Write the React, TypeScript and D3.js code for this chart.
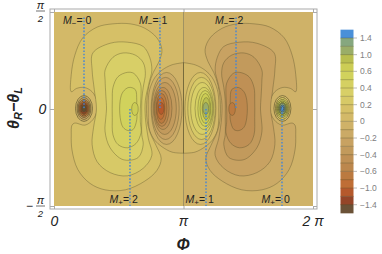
import React, { useEffect, useRef } from 'react';
import * as d3 from 'd3';

type Pt = [number, number];

// contour levels and the colour of the band above each one (lowest band first)
const levels = [-1.4, -1.2, -1, -0.8, -0.6, -0.5, -0.4, -0.3, -0.2, -0.1, 0, 0.1, 0.2, 0.3, 0.4, 0.5, 0.6, 0.8, 1, 1.2, 1.4];
const bandColors = ['#6b5237', '#944528', '#b5592c', '#bf6e36', '#bb7a40', '#bc874d', '#bf9055', '#c29a5c', '#c8a262', '#cbaa66', '#cfb268',
  '#d3b968', '#d6c067', '#d7c967', '#d8cf67', '#d5d062', '#d1d25c', '#cccd55', '#b9be4f', '#9aad68', '#86a77f', '#4a90d9'];
const legendTicks = [1.4, 1, 0.6, 0.4, 0.2, 0, -0.2, -0.4, -0.6, -1, -1.4];

// traced contours, [phi deg, theta deg], left half of the plot
const zeroLeft: Pt[] = [[180, 43], [164, 41], [150, 36], [140, 29], [133, 18], [131, 8], [131, 0], [131, -8], [133, -20], [140, -29], [150, -35], [164, -40], [180, -41]];
const lobeL01: Pt[] = [[24, 32], [29, 50], [40, 66], [60, 76], [82, 79], [106, 79], [126, 75], [143, 66], [150, 55], [146, 44], [138, 34], [132, 22], [129, 8], [129, -8], [133, -21], [142, -34], [149, -46], [143, -57], [126, -67], [99, -75], [71, -75], [50, -69], [33, -56], [25, -38], [24, -24], [25, -15], [29, -13], [43, -15], [54, -10], [60, -1], [60, 7], [53, 16], [42, 20], [31, 19], [24, 16]];
const lobeL02: Pt[] = [[53, 36], [54, 52], [78, 61], [102, 62], [124, 58], [133, 48], [136, 36], [132, 24], [127, 8], [127, -8], [131, -27], [136, -43], [124, -55], [102, -62], [78, -59], [60, -49], [53, -33], [55, -17], [59, 0], [56, 18]];
const lobeL03: Pt[] = [[71, 27], [71, 36], [82, 48], [96, 52], [113, 50], [124, 43], [127, 33], [124, 20], [122, 8], [122, -8], [122, -24], [124, -33], [117, -45], [96, -47], [78, -36], [71, -21], [72, -8], [73, 0], [72, 13]];
const lobeL04: Pt[] = [[81, 8], [82, 20], [89, 30], [102, 34], [111, 33], [120, 24], [121, 13], [120, 0], [120, -12], [121, -22], [114, -32], [102, -36], [89, -33], [82, -24], [81, -8]];
const lobeL05: Pt[] = [[92, 8], [96, 16], [104, 20], [113, 18], [115, 8], [115, 0], [115, -10], [110, -19], [103, -20], [96, -17], [92, -8]];
const lobeL06: Pt[] = [[108, 0], [109, 4], [112, 6], [116, 4], [117, 0], [116, -4], [112, -6], [109, -4]];

// right half
const zeroRight: Pt[] = [[180, 43], [196, 41], [210, 36], [220, 29], [227, 18], [229, 8], [229, 0], [229, -8], [227, -20], [220, -29], [210, -35], [196, -40], [180, -41]];
const lobeR01: Pt[] = [[336, 32], [331, 50], [320, 66], [300, 76], [278, 79], [254, 79], [234, 75], [217, 66], [210, 55], [214, 44], [222, 34], [228, 22], [231, 8], [231, -8], [227, -21], [218, -34], [211, -46], [217, -57], [234, -67], [261, -75], [289, -75], [310, -69], [327, -56], [335, -38], [336, -24], [335, -15], [331, -13], [317, -15], [306, -10], [300, -1], [300, 7], [307, 16], [318, 20], [329, 19], [336, 16]];
const lobeR02: Pt[] = [[307, 36], [306, 52], [282, 61], [258, 62], [236, 58], [227, 48], [224, 36], [228, 24], [233, 8], [233, -8], [229, -27], [224, -43], [236, -55], [258, -62], [282, -59], [300, -49], [307, -33], [305, -17], [301, 0], [304, 18]];
const lobeR03: Pt[] = [[289, 27], [289, 36], [278, 48], [264, 52], [247, 50], [236, 43], [233, 33], [236, 20], [238, 8], [238, -8], [238, -24], [236, -33], [243, -45], [264, -47], [282, -36], [289, -21], [288, -8], [287, 0], [288, 13]];
const lobeR04: Pt[] = [[279, 8], [278, 20], [271, 30], [258, 34], [249, 33], [240, 24], [239, 13], [240, 0], [240, -12], [239, -22], [246, -32], [258, -36], [271, -33], [278, -24], [279, -8]];
const lobeR05: Pt[] = [[268, 8], [264, 16], [256, 20], [247, 18], [245, 8], [245, 0], [245, -10], [250, -19], [257, -20], [264, -17], [268, -8]];
const lobeR06: Pt[] = [[252, 0], [251, 4], [248, 6], [244, 4], [243, 0], [244, -4], [248, -6], [251, -4]];

const lobeLevels = [0.1, 0.2, 0.3, 0.4, 0.5, 0.6];

// oval rings round the four peaks: phi from/to and half height in theta
const innerRingLevels = [0.1, 0.2, 0.3, 0.4, 0.5, 0.6, 0.8, 1];
const orangeFrom = [135, 136, 138, 139, 140, 142, 143, 145];
const orangeTo = [178, 174, 170, 164, 160, 157, 154, 153];
const greenFrom = [182, 186, 190, 196, 200, 203, 206, 207];
const greenTo = [225, 224, 222, 221, 220, 218, 217, 215];
const innerHalfTheta = [33.4, 28.8, 24.1, 19.5, 16.7, 13.9, 10.2, 5.6];

const outerRingLevels = [0, 0.2, 0.5, 0.8, 1, 1.2, 1.4, 1.4];
const outerPhiDark = 41.7;
const outerPhiBlue = 317.5;
const outerHalfPhi = [11.8, 9.7, 8.3, 7, 5.6, 4.2, 3, 1.7];
const outerHalfTheta = [12, 10.2, 8.4, 7, 5.6, 4.6, 3.2, 1.9];

// dotted guides, phi of each M label
const upperGuides = [41.7, 147.3, 253];
const lowerGuides = [105.6, 211.3, 316.9];
const upperLabels = ['0', '1', '2'];
const lowerLabels = ['2', '1', '0'];

const x = d3.scaleLinear().domain([0, 360]).range([54, 313]);
const y = d3.scaleLinear().domain([-90, 90]).range([206, 12]);
const bandColor = d3.scaleThreshold<number, string>().domain(levels).range(bandColors);
const legendY = d3.scalePoint<number>().domain([...levels].reverse()).range([38, 204.7]);

const closedPath = d3.line<Pt>().x(d => x(d[0])).y(d => y(d[1])).curve(d3.curveCatmullRomClosed.alpha(0.5));
const openPath = d3.line<Pt>().x(d => x(d[0])).y(d => y(d[1])).curve(d3.curveCatmullRom.alpha(0.5));

const stroke = '#4d4826';
const sw = 0.7;
const so = 0.5;
const sans = "'Liberation Sans', Arial, sans-serif";

function App() {
  const axes = useRef<SVGGElement>(null);

  useEffect(() => {
    if (!axes.current) return;
    const g = d3.select(axes.current);
    g.selectAll('*').remove();
    const xt = [0, 180, 360];
    const yt = [-90, 0, 90];
    g.append('g').attr('transform', 'translate(0,209)').call(d3.axisBottom(x).tickValues(xt).tickSize(-3).tickFormat(() => ''));
    g.append('g').attr('transform', 'translate(0,9)').call(d3.axisTop(x).tickValues(xt).tickSize(-3).tickFormat(() => ''));
    g.append('g').attr('transform', 'translate(50,0)').call(d3.axisLeft(y).tickValues(yt).tickSize(-4).tickFormat(() => ''));
    g.append('g').attr('transform', 'translate(317,0)').call(d3.axisRight(y).tickValues(yt).tickSize(-4).tickFormat(() => ''));
    g.selectAll('.domain').remove();
    g.selectAll('.tick line').attr('stroke', '#aaaaaa').attr('stroke-width', 1);
  }, []);

  const ring = (pts: Pt[], level: number) => (
    <path d={closedPath(pts) ?? ''} fill={bandColor(level + (level > 0 ? 0.01 : -0.01))} stroke={stroke} strokeWidth={sw} strokeOpacity={so} />
  );
  const halfRing = (pts: Pt[], level: number) => (
    <path d={(openPath(pts) ?? '') + 'Z'} fill={bandColor(level)} stroke={stroke} strokeWidth={sw} strokeOpacity={so} />
  );
  const oval = (from: number, to: number, half: number, level: number, key: string, op = so) => (
    <ellipse key={key} cx={x((from + to) / 2)} cy={y(0.5)} rx={(x(to) - x(from)) / 2} ry={y(0) - y(half)}
      fill={bandColor(level)} stroke={stroke} strokeWidth={sw} strokeOpacity={op} />
  );
  const fraction = (cy: number) => (
    <g fontFamily={sans} textAnchor="middle" fill="#222">
      <text x={40.5} y={cy - 2.5} fontSize={11} fontStyle="italic">π</text>
      <line x1={36} x2={45} y1={cy} y2={cy} stroke="#333" strokeWidth={0.7} />
      <text x={40.5} y={cy + 10.5} fontSize={9.5} fontStyle="italic">2</text>
    </g>
  );

  const desc = [...bandColors].reverse();
  const lv = legendY.domain();
  const step = legendY.step();

  return (
    <svg width={382} height={254} style={{ position: 'absolute', left: 0, top: 0, display: 'block' }}>
      <rect x={0} y={0} width={382} height={254} fill="#ffffff" />

      {/* base bands either side of pi */}
      <rect x={x(0)} y={y(90)} width={x(180) - x(0)} height={y(-90) - y(90)} fill={bandColor(0.05)} />
      <rect x={x(180)} y={y(90)} width={x(360) - x(180)} height={y(-90) - y(90)} fill={bandColor(-0.05)} />

      {halfRing(zeroLeft, -0.05)}
      {halfRing(zeroRight, 0.05)}

      {[lobeL01, lobeL02, lobeL03, lobeL04, lobeL05, lobeL06].map((r, i) => <g key={'ll' + i}>{ring(r, lobeLevels[i])}</g>)}
      {[lobeR01, lobeR02, lobeR03, lobeR04, lobeR05, lobeR06].map((r, i) => <g key={'lr' + i}>{ring(r, -lobeLevels[i])}</g>)}

      {innerRingLevels.map((l, i) => oval(orangeFrom[i], orangeTo[i], innerHalfTheta[i], -l - 0.01, 'o' + i))}
      {innerRingLevels.map((l, i) => oval(greenFrom[i], greenTo[i], innerHalfTheta[i], l + 0.01, 'g' + i))}
      {outerRingLevels.map((l, i) => oval(outerPhiDark - outerHalfPhi[i], outerPhiDark + outerHalfPhi[i], outerHalfTheta[i], -l - 0.01, 'd' + i, 0.85))}
      {outerRingLevels.map((l, i) => oval(outerPhiBlue - outerHalfPhi[i], outerPhiBlue + outerHalfPhi[i], outerHalfTheta[i], l + 0.01, 'b' + i, 0.85))}

      <line x1={x(180)} x2={x(180)} y1={y(90)} y2={y(-90)} stroke={stroke} strokeWidth={sw} strokeOpacity={so + 0.1} />

      {/* dotted guides */}
      {upperGuides.map(p => (
        <line key={'u' + p} x1={x(p)} x2={x(p)} y1={y(85)} y2={y(0)} stroke="#4485d6" strokeWidth={1.4} strokeDasharray="1.6 1.7" />
      ))}
      {lowerGuides.map(p => (
        <line key={'l' + p} x1={x(p)} x2={x(p)} y1={y(0)} y2={y(-90)} stroke="#4485d6" strokeWidth={1.4} strokeDasharray="1.6 1.7" />
      ))}

      {/* M labels */}
      {upperGuides.map((p, i) => (
        <text key={'ut' + p} x={x(p) - 21} y={24} fontFamily={sans} fontSize={10.5} fill="#222">
          <tspan fontStyle="italic">M</tspan><tspan fontSize={8} dy={2}>−</tspan><tspan dy={-2}>= {upperLabels[i]}</tspan>
        </text>
      ))}
      {lowerGuides.map((p, i) => (
        <text key={'lt' + p} x={x(p) - 20.5} y={203} fontFamily={sans} fontSize={10.5} fill="#222">
          <tspan fontStyle="italic">M</tspan><tspan fontSize={8} dy={2}>+</tspan><tspan dy={-2}>= {lowerLabels[i]}</tspan>
        </text>
      ))}

      {/* frame and ticks */}
      <rect x={50} y={9} width={267} height={200} fill="none" stroke="#aaaaaa" strokeWidth={1} />
      <g ref={axes} />

      {/* tick labels */}
      <g fontFamily={sans} fontStyle="italic" fontSize={14} fill="#222">
        <text x={54.5} y={225.5} textAnchor="middle">0</text>
        <text x={183.5} y={225.5} textAnchor="middle">π</text>
        <text x={313} y={225.5} textAnchor="middle">2 π</text>
        <text x={42.5} y={114} textAnchor="middle">0</text>
      </g>
      {fraction(11)}
      {fraction(206)}
      <text x={29.5} y={209.5} fontFamily={sans} fontSize={12} textAnchor="middle" fill="#222">−</text>

      {/* axis titles */}
      <text x={183} y={249.5} fontFamily={sans} fontSize={16} fontWeight="bold" fontStyle="italic" textAnchor="middle" fill="#222">Φ</text>
      <text transform="translate(19,108) rotate(-90)" fontFamily={sans} fontSize={16} fontWeight="bold" fontStyle="italic" textAnchor="middle" fill="#222">
        θ<tspan fontSize={11} dy={3}>R</tspan><tspan dy={-3}>−θ</tspan><tspan fontSize={11} dy={3}>L</tspan>
      </text>

      {/* legend */}
      {desc.map((c, i) => {
        const top = i === 0 ? legendY(lv[0])! - step : legendY(lv[i - 1])!;
        return <rect key={'lg' + i} x={340.5} y={top} width={13} height={step + 0.3} fill={c} />;
      })}
      {lv.map(l => (
        <line key={'ll' + l} x1={340.5} x2={353.5} y1={legendY(l)} y2={legendY(l)} stroke={stroke} strokeWidth={0.7} strokeOpacity={0.45} />
      ))}
      {legendTicks.map(t => (
        <g key={'lt' + t} fontFamily={sans} fontSize={8.5} fill="#808080">
          <line x1={353.5} x2={357} y1={legendY(t)} y2={legendY(t)} stroke="#aaaaaa" strokeWidth={0.8} />
          <text x={360} y={legendY(t)! + 3}>{t === 0 ? '0' : d3.format('.1f')(t).replace('-', '−')}</text>
        </g>
      ))}
    </svg>
  );
}

export default App;
